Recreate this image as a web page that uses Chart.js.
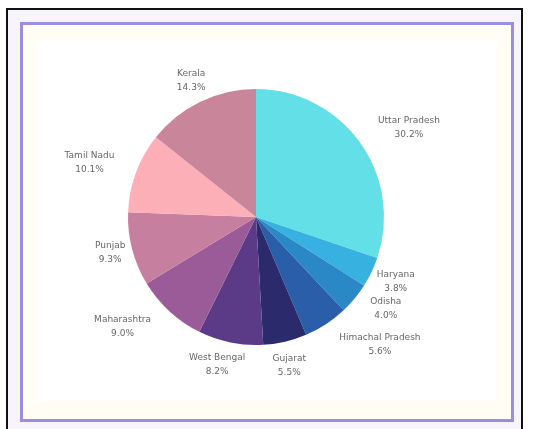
<!DOCTYPE html>
<html>
<head>
<meta charset="utf-8">
<script src="https://cdn.jsdelivr.net/npm/chart.js@4.4.1/dist/chart.umd.min.js"></script>
<style>
  html, body { margin: 0; padding: 0; width: 536px; height: 429px; overflow: hidden; background: #ffffff; }
  #outer { position: absolute; left: 6px; top: 8px; width: 517px; height: 440px; border: 2px solid #111; border-bottom: none; background: #f7f5fb; box-sizing: border-box; }
  #inner { position: absolute; left: 20px; top: 22px; width: 494px; height: 400px; border: 3px solid #9a8ee2; background: #fffdf4; box-sizing: border-box; }
  #white { position: absolute; left: 36px; top: 40px; width: 462px; height: 362px; background: #ffffff; }
  #wrap { position: absolute; left: 0; top: 0; width: 536px; height: 429px; }
</style>
</head>
<body>
<div id="outer"></div>
<div id="inner"></div>
<div id="white"></div>
<div id="wrap"><canvas id="c" width="536" height="429"></canvas></div>
<script>
const states = ["Uttar Pradesh", "Haryana", "Odisha", "Himachal Pradesh", "Gujarat", "West Bengal", "Maharashtra", "Punjab", "Tamil Nadu", "Kerala"];
const shares = [30.2, 3.8, 4.0, 5.6, 5.5, 8.2, 9.0, 9.3, 10.1, 14.3];
const sliceColors = ["#62dfe7", "#37b2e0", "#2a88c6", "#2a5ea8", "#2b2a6c", "#5b3b87", "#9a5b98", "#c77f9f", "#fdafb7", "#c98599"];
const labelReach = [49, 26, 31, 50, 24, 25, 45, 22, 47, 23];
const labelTurn = [5.4, -0.7, -4.3, -11, 0.5, 3.2, 8, 1, -2.4, 0.3];

const outsideLabels = {
  id: 'outsideLabels',
  afterDatasetsDraw(chart) {
    const ctx = chart.ctx;
    const meta = chart.getDatasetMeta(0);
    const ds = chart.data.datasets[0];
    ctx.save();
    ctx.font = '9px "DejaVu Sans", sans-serif';
    ctx.fillStyle = '#666666';
    ctx.textAlign = 'center';
    ctx.textBaseline = 'middle';
    meta.data.forEach((arc, i) => {
      const p = arc.getProps(['x', 'y', 'startAngle', 'endAngle', 'outerRadius'], true);
      const mid = (p.startAngle + p.endAngle) / 2 + labelTurn[i] * Math.PI / 180;
      const r = p.outerRadius + labelReach[i];
      const x = p.x + Math.cos(mid) * r;
      const y = p.y + Math.sin(mid) * r;
      ctx.fillText(chart.data.labels[i], x, y - 7);
      ctx.fillText(ds.data[i].toFixed(1) + '%', x, y + 7);
    });
    ctx.restore();
  }
};

new Chart(document.getElementById('c'), {
  type: 'pie',
  data: {
    labels: states,
    datasets: [{
      data: shares,
      backgroundColor: sliceColors,
      borderWidth: 0
    }]
  },
  options: {
    responsive: false,
    animation: false,
    layout: { padding: { left: 0, right: 24, top: 89, bottom: 84 } },
    plugins: {
      legend: { display: false },
      tooltip: { enabled: false }
    }
  },
  plugins: [outsideLabels]
});
</script>
</body>
</html>
